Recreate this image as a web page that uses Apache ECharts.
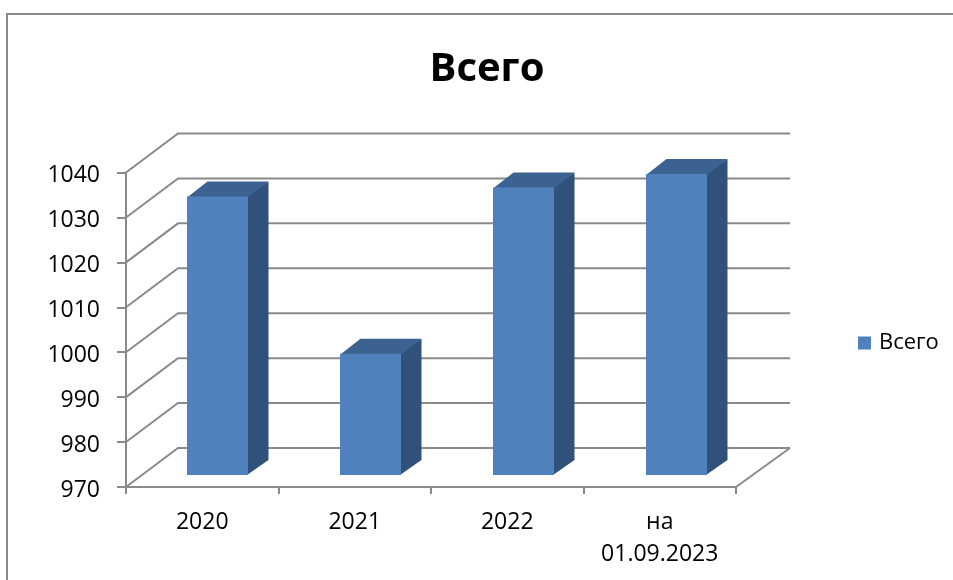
<!DOCTYPE html>
<html>
<head>
<meta charset="utf-8">
<script src="https://cdn.jsdelivr.net/npm/echarts@6/dist/echarts.min.js"></script>
<style>
html, body { margin: 0; padding: 0; background: #fff; }
#chart { width: 953px; height: 580px; }
</style>
</head>
<body>
<div id="chart"></div>
<script>
const categories = ['2020', '2021', '2022', 'на\n01.09.2023'];
const totals = [1032, 997, 1034, 1037];
const gridValues = [970, 980, 990, 1000, 1010, 1020, 1030, 1040];

const fontName = '"Open Sans", sans-serif';
const lineGrey = '#8a8a8a';

// fake 3d: how far back the wall sits, and where the bars stand on the floor
const wallDx = 52, wallDy = -39;
const barDy = -12;
const sideDx = 20.5, sideDy = -15;

function renderGridLine(params, api) {
  const y = api.coord([0, api.value(1)])[1];
  const sys = params.coordSys;
  const points = [
    [sys.x, y],
    [sys.x + wallDx, y + wallDy],
    [sys.x + sys.width + wallDx + 2, y + wallDy]
  ];
  return {
    type: 'polyline',
    shape: { points: points },
    style: { stroke: lineGrey, lineWidth: 2, fill: null }
  };
}

function renderBar(params, api) {
  const top = api.coord([api.value(0), api.value(1)]);
  const base = api.coord([api.value(0), 970]);
  const sys = params.coordSys;
  const w = Math.round(api.size([1, 0])[0] * 0.4);
  // the back is a little wider than the front, so the shift grows to the right
  const barDx = 15 + 2 * (top[0] - sys.x) / sys.width;
  const x0 = Math.round(top[0] + barDx - w / 2);
  const x1 = x0 + w;
  const y0 = top[1] + barDy;
  const y1 = base[1] + barDy;
  return {
    type: 'group',
    children: [
      {
        type: 'polygon',
        // starts 1px under the front face so no white seam shows between them
        shape: { points: [[x1 - 1, y0], [x1 + sideDx, y0 + sideDy], [x1 + sideDx, y1 + sideDy], [x1 - 1, y1]] },
        style: { fill: '#305179' }
      },
      {
        type: 'polygon',
        shape: { points: [[x0, y0 + 1], [x0 + sideDx, y0 + sideDy], [x1 + sideDx, y0 + sideDy], [x1, y0 + 1]] },
        style: { fill: '#3c6291' }
      },
      {
        type: 'rect',
        shape: { x: x0, y: y0, width: w, height: y1 - y0 },
        style: { fill: '#4f81bd' }
      }
    ]
  };
}

const myChart = echarts.init(document.getElementById('chart'), null, { renderer: 'canvas' });

const option = {
  animation: false,
  backgroundColor: '#fff',
  textStyle: { fontFamily: fontName },
  title: {
    text: 'Всего',
    left: 482,
    top: 45,
    textAlign: 'center',
    textStyle: { fontFamily: fontName, fontSize: 40, fontWeight: 'bold', color: '#000' }
  },
  legend: {
    data: ['Всего'],
    left: 858,
    top: 332,
    padding: 0,
    icon: 'rect',
    itemWidth: 13,
    itemHeight: 13,
    itemGap: 0,
    textStyle: { fontFamily: fontName, fontSize: 22, color: '#000', padding: [0, 0, 0, 3] }
  },
  grid: { left: 126, right: 217, top: 172.5, bottom: 93 },
  xAxis: {
    type: 'category',
    data: categories,
    axisLine: { lineStyle: { color: lineGrey, width: 2 } },
    axisTick: { show: true, length: 7, lineStyle: { color: lineGrey, width: 2 } },
    axisLabel: { fontFamily: fontName, fontSize: 23, color: '#000', margin: 19, lineHeight: 32, interval: 0 }
  },
  yAxis: {
    type: 'value',
    min: 970,
    max: 1040,
    interval: 10,
    axisLine: { show: true, lineStyle: { color: lineGrey, width: 2 } },
    axisTick: { show: true, length: 9, lineStyle: { color: lineGrey, width: 2 } },
    splitLine: { show: false },
    axisLabel: {
      fontFamily: fontName, fontSize: 23, color: '#000', margin: 26,
      // sits slightly below the tick, as in the picture
      verticalAlign: 'top', lineHeight: 6,
      formatter: function (v) { return String(v); }
    }
  },
  graphic: [
    {
      type: 'polyline',
      silent: true,
      shape: { points: [[7, 580], [7, 14], [953, 14]] },
      style: { stroke: lineGrey, lineWidth: 2, fill: null }
    },
    {
      // right edge of the floor
      type: 'line',
      silent: true,
      shape: { x1: 736, y1: 487, x2: 790, y2: 448 },
      style: { stroke: lineGrey, lineWidth: 2 }
    }
  ],
  series: [
    {
      name: 'Сетка',
      type: 'custom',
      silent: true,
      z: 1,
      encode: { x: 0, y: 1 },
      data: gridValues.map(function (v) { return [0, v]; }),
      renderItem: renderGridLine
    },
    {
      name: 'Всего',
      type: 'custom',
      z: 3,
      itemStyle: { color: '#4f81bd' },
      encode: { x: 0, y: 1 },
      data: totals.map(function (v, i) { return [i, v]; }),
      renderItem: renderBar
    }
  ]
};

option && myChart.setOption(option);
</script>
</body>
</html>
